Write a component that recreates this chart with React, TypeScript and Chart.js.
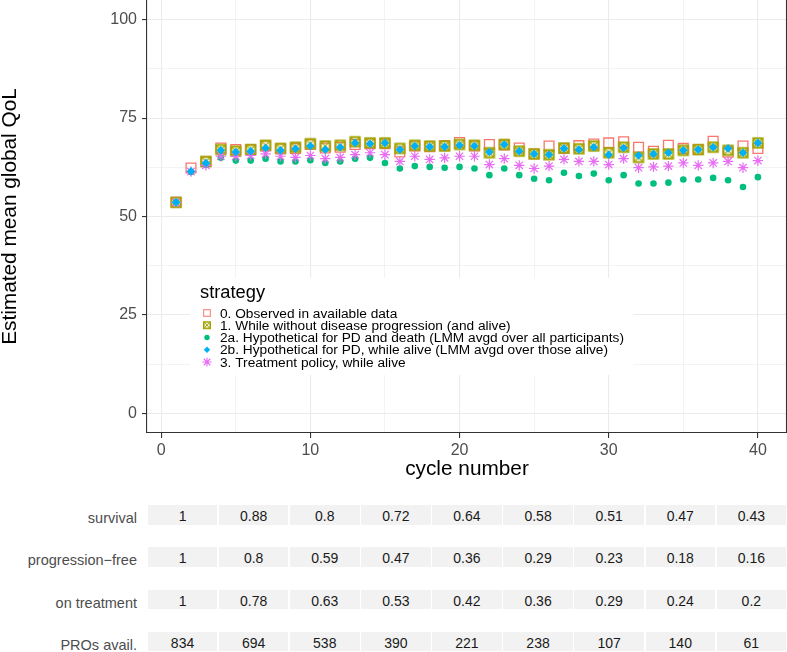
import React, { useEffect, useRef } from 'react';
import { Chart } from 'chart.js/auto';

// ---------- data ----------
const cycles = [1, 2, 3, 4, 5, 6, 7, 8, 9, 10, 11, 12, 13, 14, 15, 16, 17, 18, 19, 20, 21, 22, 23, 24, 25, 26, 27, 28, 29, 30, 31, 32, 33, 34, 35, 36, 37, 38, 39, 40];

const observed = [53.6, 62.3, 63.9, 67.4, 67.0, 67.0, 67.9, 67.2, 67.3, 68.3, 67.4, 67.6, 68.3, 68.5, 68.5, 66.4, 67.9, 67.7, 68.0, 68.8, 67.9, 68.3, 68.2, 67.4, 65.9, 67.9, 67.3, 68.0, 68.4, 68.7, 69.0, 67.6, 66.6, 68.1, 67.3, 67.0, 69.1, 66.3, 67.9, 67.3];
const withoutProgression = [53.6, null, 64.0, 67.0, 66.6, 67.0, 68.1, 67.3, 67.6, 68.5, 67.9, 68.1, 69.0, 68.7, 68.7, 67.3, 68.1, 67.9, 67.9, 68.3, 68.1, 66.2, 68.3, 66.6, 65.9, 65.7, 67.4, 67.2, 67.9, 66.2, 67.6, 65.0, 65.9, 65.9, 66.8, 67.0, 67.6, 66.8, 66.2, 68.7];
const hypotheticalAll = [53.6, 61.3, 63.1, 64.9, 64.2, 64.2, 64.7, 64.0, 64.0, 64.3, 63.6, 64.0, 64.7, 64.9, 63.6, 62.2, 62.8, 62.6, 62.4, 62.6, 62.2, 60.5, 62.2, 60.5, 59.6, 59.2, 61.1, 60.3, 60.9, 59.2, 60.5, 58.4, 58.4, 58.6, 59.4, 59.4, 59.8, 59.2, 57.5, 60.0];
const hypotheticalAlive = [53.6, 61.5, 63.6, 66.8, 66.4, 66.6, 67.4, 66.8, 67.2, 67.9, 67.0, 67.6, 68.7, 68.5, 68.7, 67.0, 67.9, 67.7, 67.7, 68.1, 67.9, 66.4, 68.3, 66.6, 65.9, 65.7, 67.3, 67.0, 67.6, 65.7, 67.4, 65.5, 65.9, 66.2, 66.8, 67.0, 67.6, 67.3, 66.2, 68.7];
const treatmentPolicy = [53.6, 61.4, 63.0, 65.3, 65.3, 65.5, 65.9, 65.3, 65.0, 65.5, 64.7, 65.0, 65.7, 66.2, 65.7, 64.0, 65.3, 64.5, 64.9, 65.3, 65.3, 63.2, 64.7, 63.0, 62.2, 62.8, 64.5, 64.0, 64.0, 63.2, 64.7, 62.4, 62.6, 62.8, 63.6, 63.0, 63.6, 64.0, 62.4, 64.2];

const legendTitle = 'strategy';
const seriesLabels = [
  '0. Observed in available data',
  '1. While without disease progression (and alive)',
  '2a. Hypothetical for PD and death (LMM avgd over all participants)',
  '2b. Hypothetical for PD, while alive (LMM avgd over those alive)',
  '3. Treatment policy, while alive',
];
const seriesColors = ['#F8766D', '#A3A500', '#00BF7D', '#00B0F6', '#E76BF3'];

const xTickValues = [0, 5, 10, 15, 20, 25, 30, 35, 40];
const yTickValues = [0, 12.5, 25, 37.5, 50, 62.5, 75, 87.5, 100];
const xTitle = 'cycle number';
const yTitle = 'Estimated mean global QoL';

const tableRowLabels = ['survival', 'progression\u2212free', 'on treatment', 'PROs avail.'];
const survival = ['1', '0.88', '0.8', '0.72', '0.64', '0.58', '0.51', '0.47', '0.43'];
const progressionFree = ['1', '0.8', '0.59', '0.47', '0.36', '0.29', '0.23', '0.18', '0.16'];
const onTreatment = ['1', '0.78', '0.63', '0.53', '0.42', '0.36', '0.29', '0.24', '0.2'];
const prosAvailable = ['834', '694', '538', '390', '221', '238', '107', '140', '61'];

const FONT = '"Liberation Sans", Arial, Helvetica, sans-serif';

function boxCross(size: number, lw: number, color: string): HTMLCanvasElement {
  const c = document.createElement('canvas');
  const s = Math.ceil(size + lw + 2);
  c.width = s;
  c.height = s;
  const g = c.getContext('2d')!;
  const o = (s - size) / 2;
  g.strokeStyle = color;
  g.lineWidth = lw;
  g.strokeRect(o, o, size, size);
  g.lineWidth = Math.max(1, lw * 0.6);
  g.beginPath();
  g.moveTo(o, o);
  g.lineTo(o + size, o + size);
  g.moveTo(o + size, o);
  g.lineTo(o, o + size);
  g.stroke();
  return c;
}

function drawLegendMarker(ctx: CanvasRenderingContext2D, i: number, x: number, y: number) {
  const col = seriesColors[i];
  ctx.save();
  ctx.strokeStyle = col;
  ctx.fillStyle = col;
  if (i === 0) {
    ctx.lineWidth = 1;
    ctx.strokeRect(x - 3.3, y - 3.3, 6.6, 6.6);
  } else if (i === 1) {
    const m = boxCross(6.4, 1.6, col);
    ctx.drawImage(m, x - m.width / 2, y - m.height / 2);
  } else if (i === 2) {
    ctx.beginPath();
    ctx.arc(x, y, 2.7, 0, Math.PI * 2);
    ctx.fill();
  } else if (i === 3) {
    ctx.beginPath();
    ctx.moveTo(x - 3.2, y);
    ctx.lineTo(x, y - 3.2);
    ctx.lineTo(x + 3.2, y);
    ctx.lineTo(x, y + 3.2);
    ctx.closePath();
    ctx.fill();
  } else {
    ctx.lineWidth = 1.1;
    const r = 4.6;
    ctx.beginPath();
    ctx.moveTo(x - r, y); ctx.lineTo(x + r, y);
    ctx.moveTo(x, y - r); ctx.lineTo(x, y + r);
    const d = r * Math.SQRT1_2;
    ctx.moveTo(x - d, y - d); ctx.lineTo(x + d, y + d);
    ctx.moveTo(x - d, y + d); ctx.lineTo(x + d, y - d);
    ctx.stroke();
  }
  ctx.restore();
}

const decorPlugin = {
  id: 'decor',
  afterDraw(chart: any) {
    const { ctx, chartArea } = chart;
    ctx.save();
    // right panel edge
    ctx.strokeStyle = '#333333';
    ctx.lineWidth = 1.1;
    ctx.beginPath();
    ctx.moveTo(chartArea.right - 0.5, chartArea.top);
    ctx.lineTo(chartArea.right - 0.5, chartArea.bottom);
    ctx.stroke();

    // axis titles
    ctx.fillStyle = '#000000';
    ctx.font = `20.8px ${FONT}`;
    ctx.textAlign = 'center';
    ctx.textBaseline = 'middle';
    ctx.fillText(xTitle, (chartArea.left + chartArea.right) / 2, 469);
    ctx.save();
    ctx.translate(16, (chartArea.top + chartArea.bottom) / 2);
    ctx.rotate(-Math.PI / 2);
    ctx.textBaseline = 'alphabetic';
    ctx.fillText(yTitle, 0, 0);
    ctx.restore();

    // legend box
    const lx = 190, ly = 278, lw = 443, lh = 97;
    ctx.fillStyle = '#ffffff';
    ctx.fillRect(lx, ly, lw, lh);
    ctx.fillStyle = '#000000';
    ctx.textAlign = 'left';
    ctx.textBaseline = 'alphabetic';
    ctx.font = `18.3px ${FONT}`;
    ctx.fillText(legendTitle, 200, 298);
    ctx.font = `13.7px ${FONT}`;
    seriesLabels.forEach((lab, i) => {
      const base = 317.5 + i * 12.25;
      drawLegendMarker(ctx, i, 207, base - 4.5);
      ctx.fillStyle = '#000000';
      ctx.fillText(lab, 220, base);
    });
    ctx.restore();
  },
};

function makePoints(arr: (number | null)[]) {
  return cycles.map((c, i) => ({ x: c, y: arr[i] }));
}

function ChartPanel() {
  const ref = useRef<HTMLCanvasElement | null>(null);
  useEffect(() => {
    const canvas = ref.current!;
    const oliveMarker = boxCross(9.2, 2.1, seriesColors[1]);
    const chart = new Chart(canvas, {
      type: 'scatter',
      data: {
        datasets: [
          {
            label: seriesLabels[0],
            data: makePoints(observed),
            pointStyle: 'rect',
            pointRadius: 6.9,
            borderWidth: 1.3,
            borderColor: seriesColors[0],
            backgroundColor: 'rgba(0,0,0,0)',
            order: 5,
          },
          {
            label: seriesLabels[1],
            data: makePoints(withoutProgression),
            pointStyle: oliveMarker,
            pointRadius: 6,
            borderColor: seriesColors[1],
            backgroundColor: seriesColors[1],
            order: 4,
          },
          {
            label: seriesLabels[2],
            data: makePoints(hypotheticalAll),
            pointStyle: 'circle',
            pointRadius: 3.3,
            borderWidth: 0,
            borderColor: seriesColors[2],
            backgroundColor: seriesColors[2],
            order: 3,
          },
          {
            label: seriesLabels[3],
            data: makePoints(hypotheticalAlive),
            pointStyle: 'rectRot',
            pointRadius: 4.3,
            borderWidth: 0,
            borderColor: seriesColors[3],
            backgroundColor: seriesColors[3],
            order: 1,
          },
          {
            label: seriesLabels[4],
            data: makePoints(treatmentPolicy),
            pointStyle: 'star',
            pointRadius: 5.2,
            borderWidth: 1.2,
            borderColor: seriesColors[4],
            backgroundColor: seriesColors[4],
            order: 2,
          },
        ],
      },
      options: {
        responsive: false,
        animation: false,
        events: [],
        layout: { padding: 0, autoPadding: false },
        plugins: { legend: { display: false }, tooltip: { enabled: false }, title: { display: false } },
        scales: {
          x: {
            type: 'linear',
            min: -0.95,
            max: 41.95,
            afterBuildTicks: (scale: any) => {
              scale.ticks = xTickValues.map((v) => ({ value: v }));
            },
            afterFit: (scale: any) => {
              scale.height = 57;
              scale.paddingLeft = 0;
              scale.paddingRight = 0;
              scale.paddingTop = 0;
              scale.paddingBottom = 0;
            },
            ticks: {
              autoSkip: false,
              maxRotation: 0,
              padding: 3,
              color: '#4d4d4d',
              font: { family: FONT, size: 16 },
              callback: (v: any) => (Number(v) % 10 === 0 ? String(v) : ''),
            },
            grid: {
              color: '#ebebeb',
              lineWidth: (c: any) => (c.tick && c.tick.value % 10 === 0 ? 1.1 : 0.6),
              tickLength: 5,
              tickWidth: 1.1,
              tickColor: (c: any) => (c.tick && c.tick.value % 10 === 0 ? '#333333' : 'rgba(0,0,0,0)'),
            },
            border: { display: true, color: '#333333', width: 1.1 },
          },
          y: {
            type: 'linear',
            min: -5,
            max: 105,
            afterBuildTicks: (scale: any) => {
              scale.ticks = yTickValues.map((v) => ({ value: v }));
            },
            afterFit: (scale: any) => {
              scale.width = 147;
              scale.paddingLeft = 0;
              scale.paddingRight = 0;
              scale.paddingTop = 0;
              scale.paddingBottom = 0;
            },
            ticks: {
              autoSkip: false,
              padding: 5,
              color: '#4d4d4d',
              font: { family: FONT, size: 16 },
              callback: (v: any) => (Number(v) % 25 === 0 ? String(v) : ''),
            },
            grid: {
              color: '#ebebeb',
              lineWidth: (c: any) => (c.tick && c.tick.value % 25 === 0 ? 1.1 : 0.6),
              tickLength: 5,
              tickWidth: 1.1,
              tickColor: (c: any) => (c.tick && c.tick.value % 25 === 0 ? '#333333' : 'rgba(0,0,0,0)'),
            },
            border: { display: true, color: '#333333', width: 1.1 },
          },
        },
      } as any,
      plugins: [decorPlugin],
    });
    return () => chart.destroy();
  }, []);
  return <canvas ref={ref} width={787} height={490} style={{ position: 'absolute', left: 0, top: 0, width: 787, height: 490 }} />;
}

const tableRows = [survival, progressionFree, onTreatment, prosAvailable];

export default function App() {
  return (
    <div style={{ position: 'absolute', left: 0, top: 0, width: 787, height: 652, background: '#ffffff', overflow: 'hidden', fontFamily: FONT }}>
      <ChartPanel />
      {tableRows.map((row, r) => {
        const top = 505 + r * 42.3;
        return (
          <React.Fragment key={r}>
            <div
              style={{
                position: 'absolute', left: 0, width: 137, top: top + 2, height: 22, lineHeight: '22px',
                textAlign: 'right', fontSize: 14.5, color: '#4d4d4d', whiteSpace: 'nowrap',
              }}
            >
              {tableRowLabels[r]}
            </div>
            {row.map((val, i) => (
              <div
                key={i}
                style={{
                  position: 'absolute', left: 147.8 + i * 71.1, width: 69.5, top, height: 19.5,
                  background: '#f2f2f2',
                }}
              >
                <div style={{ lineHeight: '22px', textAlign: 'center', fontSize: 14, color: '#1a1a1a', whiteSpace: 'nowrap' }}>{val}</div>
              </div>
            ))}
          </React.Fragment>
        );
      })}
    </div>
  );
}
